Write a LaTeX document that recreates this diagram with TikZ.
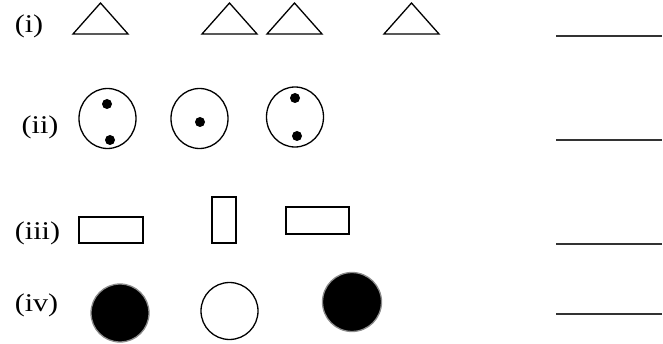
\documentclass[tikz,border=0pt]{standalone}
\usepackage{fontspec}
\setmainfont{Liberation Serif}
\usetikzlibrary{shapes.geometric}
\newcommand{\wide}[1]{\scalebox{1.18}[1]{#1}}
\begin{document}
\begin{tikzpicture}[x=1pt,y=-1pt,every node/.style={font=\fontsize{25.5}{27}\selectfont, inner sep=0pt},
  ring/.style={draw, ellipse, line width=1.3pt, minimum width=57pt, minimum height=60pt},
  dot/.style={fill, circle, minimum size=10pt},
  blank/.style={line width=2pt, draw=black!80}]
\useasboundingbox (0,0) rectangle (663,344);
\node (lab1) at (29,26) {\wide{(i)}};
\node (lab2) at (40,127) {\wide{(ii)}};
\node (lab3) at (37.5,233.5) {\wide{(iii)}};
\node (lab4) at (36.5,305) {\wide{(iv)}};

\draw[line width=1.3pt] (73,34) -- (100.5,3) -- (128,34) -- cycle;
\draw[line width=1.3pt] (202,34) -- (229.5,3) -- (257,34) -- cycle;
\draw[line width=1.3pt] (267,34) -- (294.5,3) -- (322,34) -- cycle;
\draw[line width=1.3pt] (384,34) -- (411.5,3) -- (439,34) -- cycle;

\node[ring] (ring1) at (107.5,118.5) {};
\node[ring] (ring2) at (199.5,118.5) {};
\node[ring] (ring3) at (295,117) {};
\node[dot] (d1) at (107,104) {};
\node[dot] (d2) at (110,140) {};
\node[dot] (d3) at (200,122) {};
\node[dot] (d4) at (295,98) {};
\node[dot] (d5) at (297,136) {};

\draw[line width=1.3pt] (79,217) rectangle (143,243);
\draw[line width=1.3pt] (212,197) rectangle (236,243);
\draw[line width=1.3pt] (286,207) rectangle (349,234);

\node[circle, draw=black!45, line width=1.3pt, fill=black, minimum size=58pt] (ball1) at (120,313) {};
\node[circle, draw, line width=1.3pt, minimum size=57pt] (ball2) at (229.5,311) {};
\node[circle, draw=black!45, line width=1.3pt, fill=black, minimum size=59pt] (ball3) at (352,302) {};

\draw[blank] (556,36) -- (662,36);
\draw[blank] (556,140) -- (662,140);
\draw[blank] (556,244) -- (662,244);
\draw[blank] (556,314) -- (662,314);
\end{tikzpicture}
\end{document}
